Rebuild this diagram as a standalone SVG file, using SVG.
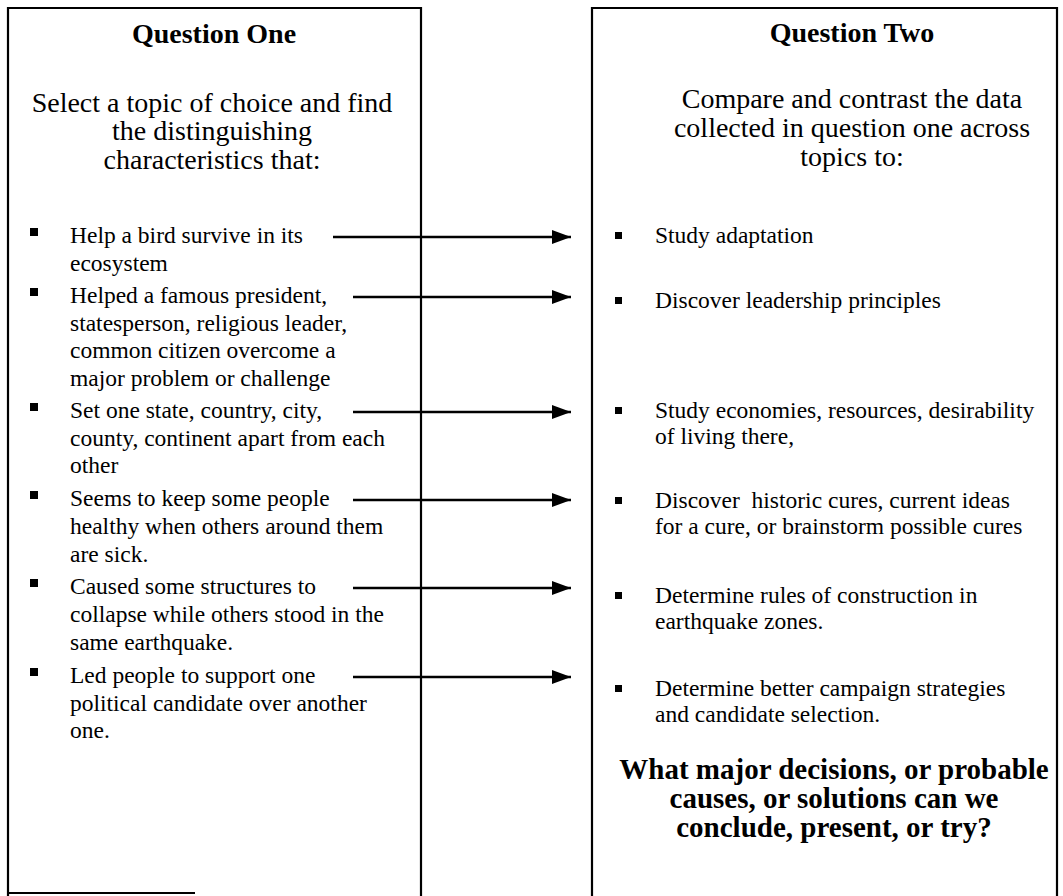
<svg xmlns="http://www.w3.org/2000/svg" width="1063" height="896" viewBox="0 0 1063 896">
  <defs>
    <style>
      .frame { fill: none; stroke: #000; stroke-width: 2.2; }
      .title { font-family: "Liberation Serif", "Times New Roman", serif; font-weight: bold; font-size: 28px; text-anchor: middle; fill: #000; }
      .desc { font-family: "Liberation Serif", "Times New Roman", serif; font-size: 28px; text-anchor: middle; fill: #000; }
      .item { font-family: "Liberation Serif", "Times New Roman", serif; font-size: 23.5px; fill: #000; }
      .concl { font-family: "Liberation Serif", "Times New Roman", serif; font-weight: bold; font-size: 29px; text-anchor: middle; fill: #000; }
      .dot { fill: #000; }
      .link { stroke: #000; stroke-width: 2.6; fill: none; marker-end: url(#head); }
    </style>
    <marker id="head" markerUnits="userSpaceOnUse" markerWidth="20" markerHeight="14" refX="19" refY="7" orient="auto">
      <path d="M0,0 L19,7 L0,14 Z" fill="#000"/>
    </marker>
  </defs>
  <rect width="1063" height="896" fill="#fff"/>

  <!-- Left panel: Question One -->
  <g id="question-one">
    <path class="frame" d="M8,896 V8 H421 V896"/>
    <path class="frame" d="M8,893 H195"/>
    <text class="title" x="214" y="43">Question One</text>
    <text class="desc" x="212" y="112">Select a topic of choice and find</text>
    <text class="desc" x="212" y="140">the distinguishing</text>
    <text class="desc" x="212" y="169">characteristics that:</text>

    <rect class="dot" x="30" y="228" width="8" height="8"/>
    <text class="item" x="70" y="243">Help a bird survive in its</text>
    <text class="item" x="70" y="271">ecosystem</text>

    <rect class="dot" x="30" y="288" width="8" height="8"/>
    <text class="item" x="70" y="303">Helped a famous president,</text>
    <text class="item" x="70" y="331">statesperson, religious leader,</text>
    <text class="item" x="70" y="358">common citizen overcome a</text>
    <text class="item" x="70" y="386">major problem or challenge</text>

    <rect class="dot" x="30" y="403" width="8" height="8"/>
    <text class="item" x="70" y="418">Set one state, country, city,</text>
    <text class="item" x="70" y="446">county, continent apart from each</text>
    <text class="item" x="70" y="473">other</text>

    <rect class="dot" x="30" y="491" width="8" height="8"/>
    <text class="item" x="70" y="506">Seems to keep some people</text>
    <text class="item" x="70" y="534">healthy when others around them</text>
    <text class="item" x="70" y="562">are sick.</text>

    <rect class="dot" x="30" y="579" width="8" height="8"/>
    <text class="item" x="70" y="594">Caused some structures to</text>
    <text class="item" x="70" y="622">collapse while others stood in the</text>
    <text class="item" x="70" y="650">same earthquake.</text>

    <rect class="dot" x="30" y="668" width="8" height="8"/>
    <text class="item" x="70" y="683">Led people to support one</text>
    <text class="item" x="70" y="711">political candidate over another</text>
    <text class="item" x="70" y="738">one.</text>
  </g>

  <!-- Right panel: Question Two -->
  <g id="question-two">
    <path class="frame" d="M592,896 V8 H1057 V896"/>
    <text class="title" x="852" y="42">Question Two</text>
    <text class="desc" x="852" y="108">Compare and contrast the data</text>
    <text class="desc" x="852" y="137">collected in question one across</text>
    <text class="desc" x="852" y="166">topics to:</text>

    <rect class="dot" x="615" y="232" width="7" height="7"/>
    <text class="item" x="655" y="243">Study adaptation</text>

    <rect class="dot" x="615" y="297" width="7" height="7"/>
    <text class="item" x="655" y="308">Discover leadership principles</text>

    <rect class="dot" x="615" y="407" width="7" height="7"/>
    <text class="item" x="655" y="418">Study economies, resources, desirability</text>
    <text class="item" x="655" y="444">of living there,</text>

    <rect class="dot" x="615" y="497" width="7" height="7"/>
    <text class="item" x="655" y="508">Discover&#160; historic cures, current ideas</text>
    <text class="item" x="655" y="534">for a cure, or brainstorm possible cures</text>

    <rect class="dot" x="615" y="592" width="7" height="7"/>
    <text class="item" x="655" y="603">Determine rules of construction in</text>
    <text class="item" x="655" y="629">earthquake zones.</text>

    <rect class="dot" x="615" y="685" width="7" height="7"/>
    <text class="item" x="655" y="696">Determine better campaign strategies</text>
    <text class="item" x="655" y="722">and candidate selection.</text>

    <text class="concl" x="834" y="779">What major decisions, or probable</text>
    <text class="concl" x="834" y="808">causes, or solutions can we</text>
    <text class="concl" x="834" y="837">conclude, present, or try?</text>
  </g>

  <!-- Arrows from each characteristic to its comparison -->
  <g id="connectors">
    <line class="link" x1="333" y1="237" x2="571" y2="237"/>
    <line class="link" x1="353" y1="297" x2="571" y2="297"/>
    <line class="link" x1="353" y1="412" x2="571" y2="412"/>
    <line class="link" x1="353" y1="500" x2="571" y2="500"/>
    <line class="link" x1="353" y1="588" x2="571" y2="588"/>
    <line class="link" x1="353" y1="677" x2="571" y2="677"/>
  </g>
</svg>
